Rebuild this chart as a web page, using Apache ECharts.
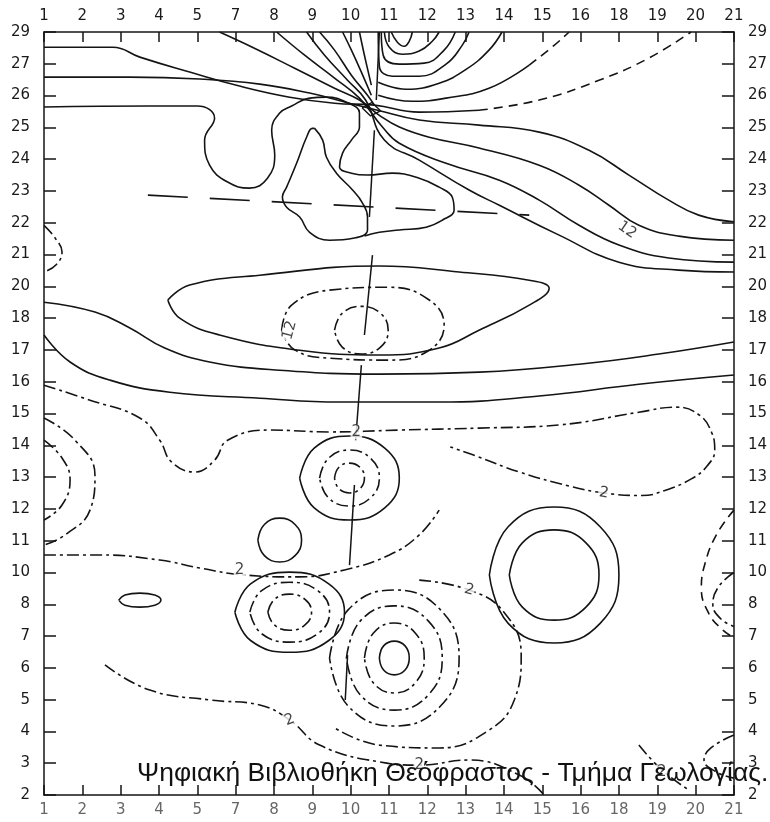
<!DOCTYPE html>
<html>
<head>
<meta charset="utf-8">
<script src="https://cdn.jsdelivr.net/npm/echarts@6/dist/echarts.min.js"></script>
<style>
  html, body { margin: 0; padding: 0; background: #fff; }
  #chart { width: 770px; height: 822px; }
</style>
</head>
<body>
<div id="chart"></div>
<script>
// Station labels along the sections (evenly spaced grid positions)
const xLabels = ['1', '2', '3', '4', '5', '7', '8', '9', '10', '11', '12', '13', '14', '15', '16', '18', '19', '20', '21'];
const yLabels = ['2', '3', '4', '5', '6', '7', '8', '10', '11', '12', '13', '14', '15', '16', '17', '18', '20', '21', '22', '23', '24', '25', '26', '27', '29'];

// Isolines, in grid units [column, row]
const northA = [[0, 23.52], [1.8, 23.52], [2.5, 23.21], [3.8, 22.74], [5.1, 22.3], [6.41, 21.95], [7.58, 21.76], [8.62, 21.7], [9.79, 21.48], [11.35, 21.54]];
const northAEast = [[11.35, 21.54], [12.92, 21.86], [14.48, 22.48], [15.78, 23.18], [16.88, 24]];
const northB = [[0, 22.58], [2.24, 22.58], [4.06, 22.52], [5.63, 22.36], [6.93, 22.08], [7.97, 21.76], [8.7, 21.54], [9.79, 21.23], [11.35, 21.07], [12.92, 20.85], [14.22, 20.28], [15.26, 19.5], [16.3, 18.71], [17.08, 18.24], [18, 18.03]];
const northC = [[4.58, 24], [5.49, 23.49], [6.54, 22.86], [7.58, 22.23], [8.23, 21.86], [8.75, 21.38], [9.27, 21.01], [10.05, 20.69], [11.35, 20.35], [12.92, 19.81], [13.96, 19.18], [14.74, 18.55], [15.52, 17.92], [16.56, 17.58], [18, 17.45]];
const northD = [[6.07, 24], [6.8, 23.27], [7.58, 22.55], [8.23, 21.92], [8.83, 21.01], [9.27, 20.5], [10.49, 19.87], [11.88, 19.34], [12.92, 18.71], [13.96, 17.92], [15.0, 17.3], [16.3, 16.89], [18, 16.76]];
const northE = [[6.85, 24], [7.32, 23.27], [7.92, 22.48], [8.39, 21.86], [8.88, 20.6], [9.79, 19.97], [11.09, 19.03], [11.88, 18.55], [13.44, 17.61], [15.0, 16.76], [16.56, 16.51], [18, 16.45]];
const northF = [[7.19, 24], [7.58, 23.43], [8.02, 22.64], [8.44, 22.01], [8.62, 21.7]];
const northG = [[7.79, 24], [8.02, 23.43], [8.28, 22.74], [8.54, 22.01]];
const northH = [[8.23, 24], [8.36, 23.27], [8.54, 22.33]];
const neckBox = [[8.3, 21.62], [8.55, 21.78], [8.78, 21.52], [8.52, 21.36], [8.3, 21.62]];

const capA = [[9.06, 24], [9.22, 23.68], [9.4, 23.55], [9.53, 23.71], [9.61, 24]];
const capB = [[8.88, 24], [9.01, 23.52], [9.35, 23.3], [9.79, 23.4], [10.13, 23.71], [10.31, 24]];
const capC = [[8.8, 24], [8.85, 23.27], [9.27, 22.99], [9.92, 23.02], [10.44, 23.43], [10.73, 24]];
const capD = [[8.72, 24], [8.75, 22.92], [9.09, 22.61], [9.79, 22.61], [10.49, 22.99], [10.91, 23.58], [11.09, 24]];
const capE = [[8.72, 22.42], [9.45, 22.2], [10.31, 22.39], [11.02, 22.83], [11.61, 23.43], [11.95, 24]];
const capF = [[8.72, 22.01], [9.61, 21.82], [10.49, 21.92], [11.61, 22.23], [12.66, 22.96]];
const capFEast = [[12.66, 22.96], [13.31, 23.58], [13.7, 24]];

const saddleLoop = [[0, 21.64], [2.76, 21.67], [4.0, 21.67], [4.45, 21.29], [4.19, 20.6], [4.32, 19.81], [4.79, 19.28], [5.36, 19.09], [5.83, 19.4], [6.02, 20.13], [5.94, 20.91], [6.15, 21.45], [6.46, 21.67], [6.93, 21.92], [7.37, 21.95], [7.89, 21.79], [8.23, 21.45], [8.23, 21.01], [8.02, 20.6], [7.79, 20.19], [7.71, 19.75], [8.02, 19.56], [8.44, 19.5], [9.09, 19.56], [9.79, 19.4], [10.31, 19.12], [10.65, 18.81], [10.7, 18.4], [10.39, 18.08], [9.97, 17.86], [9.27, 17.77], [8.75, 17.7], [8.36, 17.58]];
const fingerLoop = [[7.06, 20.97], [7.27, 20.6], [7.37, 20.06], [7.63, 19.56], [8.05, 19.03], [8.31, 18.62], [8.44, 18.18], [8.44, 17.77], [8.1, 17.52], [7.45, 17.45], [6.93, 17.7], [6.67, 18.18], [6.33, 18.49], [6.22, 18.81], [6.33, 19.12], [6.59, 19.87], [6.85, 20.69], [7.0, 20.97], [7.06, 20.97]];
const westNotch = [[0, 17.92], [0.29, 17.52], [0.47, 17.08], [0.31, 16.67], [0, 16.45]];

const midA = [[0, 15.5], [1.33, 15.19], [2.24, 14.69], [3.15, 14.06], [4.32, 13.62], [6.15, 13.36], [8.75, 13.24], [11.35, 13.3], [13.96, 13.55], [16.04, 13.87], [18, 14.25]];
const midB = [[0, 14.47], [0.68, 13.62], [1.72, 13.05], [3.28, 12.67], [5.63, 12.48], [7.71, 12.36], [10.31, 12.36], [12.92, 12.55], [15.52, 12.92], [18, 13.21]];
const highOuter = [[3.23, 15.57], [3.8, 16.04], [5.63, 16.35], [8.75, 16.64], [10.83, 16.45], [12.66, 16.19], [13.18, 15.94], [12.66, 15.41], [11.35, 14.62], [10.31, 14.06], [8.75, 13.84], [6.67, 13.99], [4.58, 14.47], [3.54, 15.0], [3.23, 15.57]];
const highMiddle = [[6.2, 14.62], [6.46, 15.41], [7.45, 15.88], [9.01, 15.97], [10.05, 15.57], [10.44, 14.78], [10.05, 13.99], [9.01, 13.68], [7.45, 13.74], [6.54, 14.0], [6.2, 14.62]];
const highInner = [[7.58, 14.62], [7.78, 15.15], [8.28, 15.37], [8.78, 15.15], [8.98, 14.62], [8.78, 14.09], [8.28, 13.87], [7.78, 14.09], [7.58, 14.62]];

// The "2" isoline: from the west edge, across the section and back in an eastern tongue
const lineTwo = [[0, 12.89], [1.2, 12.42], [2.5, 11.86], [3.02, 11.16], [3.33, 10.47], [3.93, 10.16], [4.45, 10.53], [4.79, 11.16], [5.89, 11.48], [7.45, 11.42], [9.27, 11.48], [11.35, 11.54], [13.44, 11.64], [15.52, 12.04], [16.5, 12.2], [17.1, 11.95], [17.42, 11.4], [17.5, 10.85], [17.3, 10.35], [16.9, 9.95], [16.2, 9.58], [15.6, 9.42], [14.61, 9.5], [13.7, 9.72], [12.4, 10.16], [11.3, 10.65], [10.6, 10.95]];
const westArcOuter = [[0, 11.86], [0.81, 11.16], [1.33, 10.06], [1.2, 8.96], [0.55, 8.18], [0, 7.86]];
const westArcInner = [[0, 11.16], [0.47, 10.6], [0.68, 9.91], [0.47, 9.12], [0, 8.65]];
const centreRing1 = [[7.58, 9.97], [7.69, 10.3], [7.97, 10.44], [8.25, 10.3], [8.36, 9.97], [8.25, 9.64], [7.97, 9.5], [7.69, 9.64], [7.58, 9.97]];
const centreRing2 = [[7.19, 9.97], [7.42, 10.59], [7.97, 10.85], [8.52, 10.59], [8.75, 9.97], [8.52, 9.35], [7.97, 9.09], [7.42, 9.35], [7.19, 9.97]];
const centreRing3 = [[6.67, 9.97], [7.05, 10.91], [7.97, 11.29], [8.89, 10.91], [9.27, 9.97], [8.89, 9.03], [7.97, 8.65], [7.05, 9.03], [6.67, 9.97]];
const smallRing = [[5.58, 8.02], [5.75, 8.51], [6.15, 8.71], [6.55, 8.51], [6.72, 8.02], [6.55, 7.53], [6.15, 7.33], [5.75, 7.53], [5.58, 8.02]];
const lineTwoSouth = [[0, 7.55], [1.46, 7.55], [3.02, 7.39], [4.06, 7.14], [5.23, 6.92], [6.67, 6.86], [7.84, 7.08], [9.01, 7.55], [9.79, 8.18], [10.31, 8.96]];
const eastRingOuter = [[11.62, 6.92], [12.11, 8.44], [13.31, 9.06], [14.51, 8.44], [15.0, 6.92], [14.51, 5.4], [13.31, 4.78], [12.11, 5.4], [11.62, 6.92]];
const eastRingInner = [[12.14, 6.92], [12.48, 7.93], [13.31, 8.34], [14.14, 7.93], [14.48, 6.92], [14.14, 5.91], [13.31, 5.5], [12.48, 5.91], [12.14, 6.92]];
const eastLoopOuter = [[18, 8.96], [17.55, 8.2], [17.25, 7.3], [17.15, 6.5], [17.35, 5.7], [17.7, 5.2], [18, 4.95]];
const eastLoopInner = [[18, 7.0], [17.6, 6.55], [17.45, 6.0], [17.65, 5.55], [18, 5.3]];

const tinyRing = [[1.95, 6.13], [2.11, 6.29], [2.5, 6.35], [2.89, 6.29], [3.05, 6.13], [2.89, 5.97], [2.5, 5.91], [2.11, 5.97], [1.95, 6.13]];
const lowWest1 = [[5.84, 5.75], [6.01, 6.15], [6.41, 6.32], [6.81, 6.15], [6.98, 5.75], [6.81, 5.35], [6.41, 5.18], [6.01, 5.35], [5.84, 5.75]];
const lowWest2 = [[5.37, 5.75], [5.67, 6.42], [6.41, 6.69], [7.15, 6.42], [7.45, 5.75], [7.15, 5.08], [6.41, 4.81], [5.67, 5.08], [5.37, 5.75]];
const lowWest3 = [[4.98, 5.75], [5.39, 6.64], [6.41, 7.01], [7.43, 6.64], [7.84, 5.75], [7.43, 4.86], [6.41, 4.49], [5.39, 4.86], [4.98, 5.75]];
const lowEast1 = [[8.75, 4.31], [8.86, 4.69], [9.14, 4.84], [9.42, 4.69], [9.53, 4.31], [9.42, 3.93], [9.14, 3.78], [8.86, 3.93], [8.75, 4.31]];
const lowEast2 = [[8.36, 4.31], [8.59, 5.09], [9.14, 5.41], [9.69, 5.09], [9.92, 4.31], [9.69, 3.53], [9.14, 3.21], [8.59, 3.53], [8.36, 4.31]];
const lowEast3 = [[7.89, 4.31], [8.25, 5.47], [9.14, 5.95], [10.03, 5.47], [10.39, 4.31], [10.03, 3.15], [9.14, 2.67], [8.25, 3.15], [7.89, 4.31]];
const lowEast4 = [[7.45, 4.31], [7.94, 5.83], [9.14, 6.45], [10.34, 5.83], [10.83, 4.31], [10.34, 2.79], [9.14, 2.17], [7.94, 2.79], [7.45, 4.31]];
const lowEastTwo = [[9.79, 6.76], [11.09, 6.45], [12.0, 5.75], [12.45, 4.4], [12.27, 2.99], [11.61, 2.04], [10.31, 1.48], [8.75, 1.57], [7.58, 2.11]];
const southLine = [[1.59, 4.09], [2.76, 3.3], [4.32, 2.99], [5.63, 2.83], [6.41, 2.36], [7.19, 1.57], [8.75, 1.04], [9.79, 0.94], [11.09, 1.1], [12.4, 0.63], [13.05, 0]];
const southEast = [[15.52, 1.57], [16.12, 0.79], [16.82, 0.16]];
const southEastArc = [[18, 1.89], [17.4, 1.48], [17.22, 1.1], [17.55, 0.72], [18, 0.53]];

// Section trace (straight segments) and the dashed trend line
const sectionTrace = [
  [[8.75, 24], [8.67, 21.86]],
  [[8.62, 20.91], [8.49, 18.18]],
  [[8.57, 16.98], [8.36, 14.47]],
  [[8.28, 13.52], [8.13, 11.16]],
  [[8.1, 9.75], [7.97, 7.23]],
  [[7.92, 4.4], [7.86, 2.99]]
];
const trendLine = [[2.71, 18.87], [12.66, 18.24]];

// Contour value labels
const labelPos = [[8.15, 11.42], [5.1, 7.08], [14.61, 9.5], [11.09, 6.45], [6.41, 2.36], [9.79, 0.94], [16.12, 0.72], [15.21, 17.77], [6.41, 14.62]];
const labelText = ['2', '2', '2', '2', '2', '2', '2', '12', '12'];
const labelAngle = [0, 0, -10, -15, 20, 0, 0, -35, 75];

const isolines = [
  [northA, 'solid'], [northAEast, 'dashed'], [northB, 'solid'], [northC, 'solid'], [northD, 'solid'],
  [northE, 'solid'], [northF, 'solid'], [northG, 'solid'], [northH, 'solid'],
  [capA, 'solid'], [capB, 'solid'], [capC, 'solid'], [capD, 'solid'], [capE, 'solid'], [capF, 'solid'], [capFEast, 'dashed'],
  [saddleLoop, 'solid'], [fingerLoop, 'solid'], [westNotch, 'dashdot'],
  [midA, 'solid'], [midB, 'solid'], [highOuter, 'solid'], [highMiddle, 'dashdot'], [highInner, 'dashdot'],
  [lineTwo, 'dashdot'], [westArcOuter, 'dashdot'], [westArcInner, 'dashdot'],
  [centreRing1, 'dashdot'], [centreRing2, 'dashdot'], [centreRing3, 'solid'], [smallRing, 'solid'],
  [lineTwoSouth, 'dashdot'], [eastRingOuter, 'solid'], [eastRingInner, 'solid'],
  [eastLoopOuter, 'dashed'], [eastLoopInner, 'dashdot'],
  [tinyRing, 'solid'], [lowWest1, 'dashdot'], [lowWest2, 'dashdot'], [lowWest3, 'solid'],
  [lowEast1, 'solid'], [lowEast2, 'dashdot'], [lowEast3, 'dashdot'], [lowEast4, 'dashdot'], [lowEastTwo, 'dashdot'],
  [southLine, 'dashdot'], [southEast, 'dashdot'], [southEastArc, 'dashdot']
];

const INK = '#141414';
const dashTypes = { solid: 'solid', dashed: [9, 6], dashdot: [12, 4, 3, 4] };

const series = isolines.map(([pts, kind]) => ({
  type: 'line', data: pts, smooth: 0.45, symbol: 'none', silent: true,
  lineStyle: { color: INK, width: 1.6, type: dashTypes[kind] }
}));
series.push({
  type: 'line', data: neckBox, symbol: 'none', silent: true,
  lineStyle: { color: INK, width: 1.4 }
});
sectionTrace.forEach(seg => series.push({
  type: 'line', data: seg, symbol: 'none', silent: true,
  lineStyle: { color: INK, width: 1.5 }
}));
series.push({
  type: 'line', data: trendLine, symbol: 'none', silent: true,
  lineStyle: { color: INK, width: 1.6, type: [40, 22] }
});
series.push({
  type: 'scatter', symbolSize: 0, silent: true, z: 5,
  data: labelPos.map((p, i) => ({
    value: p,
    label: { show: true, position: 'inside', formatter: labelText[i], rotate: labelAngle[i] }
  })),
  label: { color: INK, fontSize: 15, fontFamily: 'DejaVu Sans', backgroundColor: '#fff', padding: [0, 1] }
});

const xAxisBase = (pos, color) => ({
  type: 'value', position: pos, min: 0, max: 18, interval: 1,
  axisLine: { onZero: false, lineStyle: { color: INK, width: 1.5 } },
  axisTick: { inside: true, length: 10, lineStyle: { color: INK, width: 1.5 } },
  axisLabel: { formatter: v => xLabels[v] ?? '', color, fontSize: 15, fontFamily: 'DejaVu Sans', margin: 8 },
  splitLine: { show: false }
});
const yAxisBase = pos => ({
  type: 'value', position: pos, min: 0, max: 24, interval: 1,
  axisLine: { onZero: false, lineStyle: { color: INK, width: 1.5 } },
  axisTick: { inside: true, length: 12, lineStyle: { color: INK, width: 1.5 } },
  axisLabel: { formatter: v => yLabels[v] ?? '', color: '#1a1a1a', fontSize: 15, fontFamily: 'DejaVu Sans', margin: 14 },
  splitLine: { show: false }
});

const chart = echarts.init(document.getElementById('chart'), null, { renderer: 'canvas' });
chart.setOption({
  animation: false,
  backgroundColor: '#fff',
  grid: { left: 44, right: 35, top: 32, bottom: 27, containLabel: false },
  xAxis: [xAxisBase('bottom', '#666'), xAxisBase('top', '#1a1a1a')],
  yAxis: [yAxisBase('left'), yAxisBase('right')],
  series,
  graphic: [{
    type: 'text', left: 137, top: 760, z: 100,
    style: { text: 'Ψηφιακή Βιβλιοθήκη Θεόφραστος - Τμήμα Γεωλογίας.', font: '26.5px "Liberation Sans"', fill: '#111' }
  }]
});
</script>
</body>
</html>
